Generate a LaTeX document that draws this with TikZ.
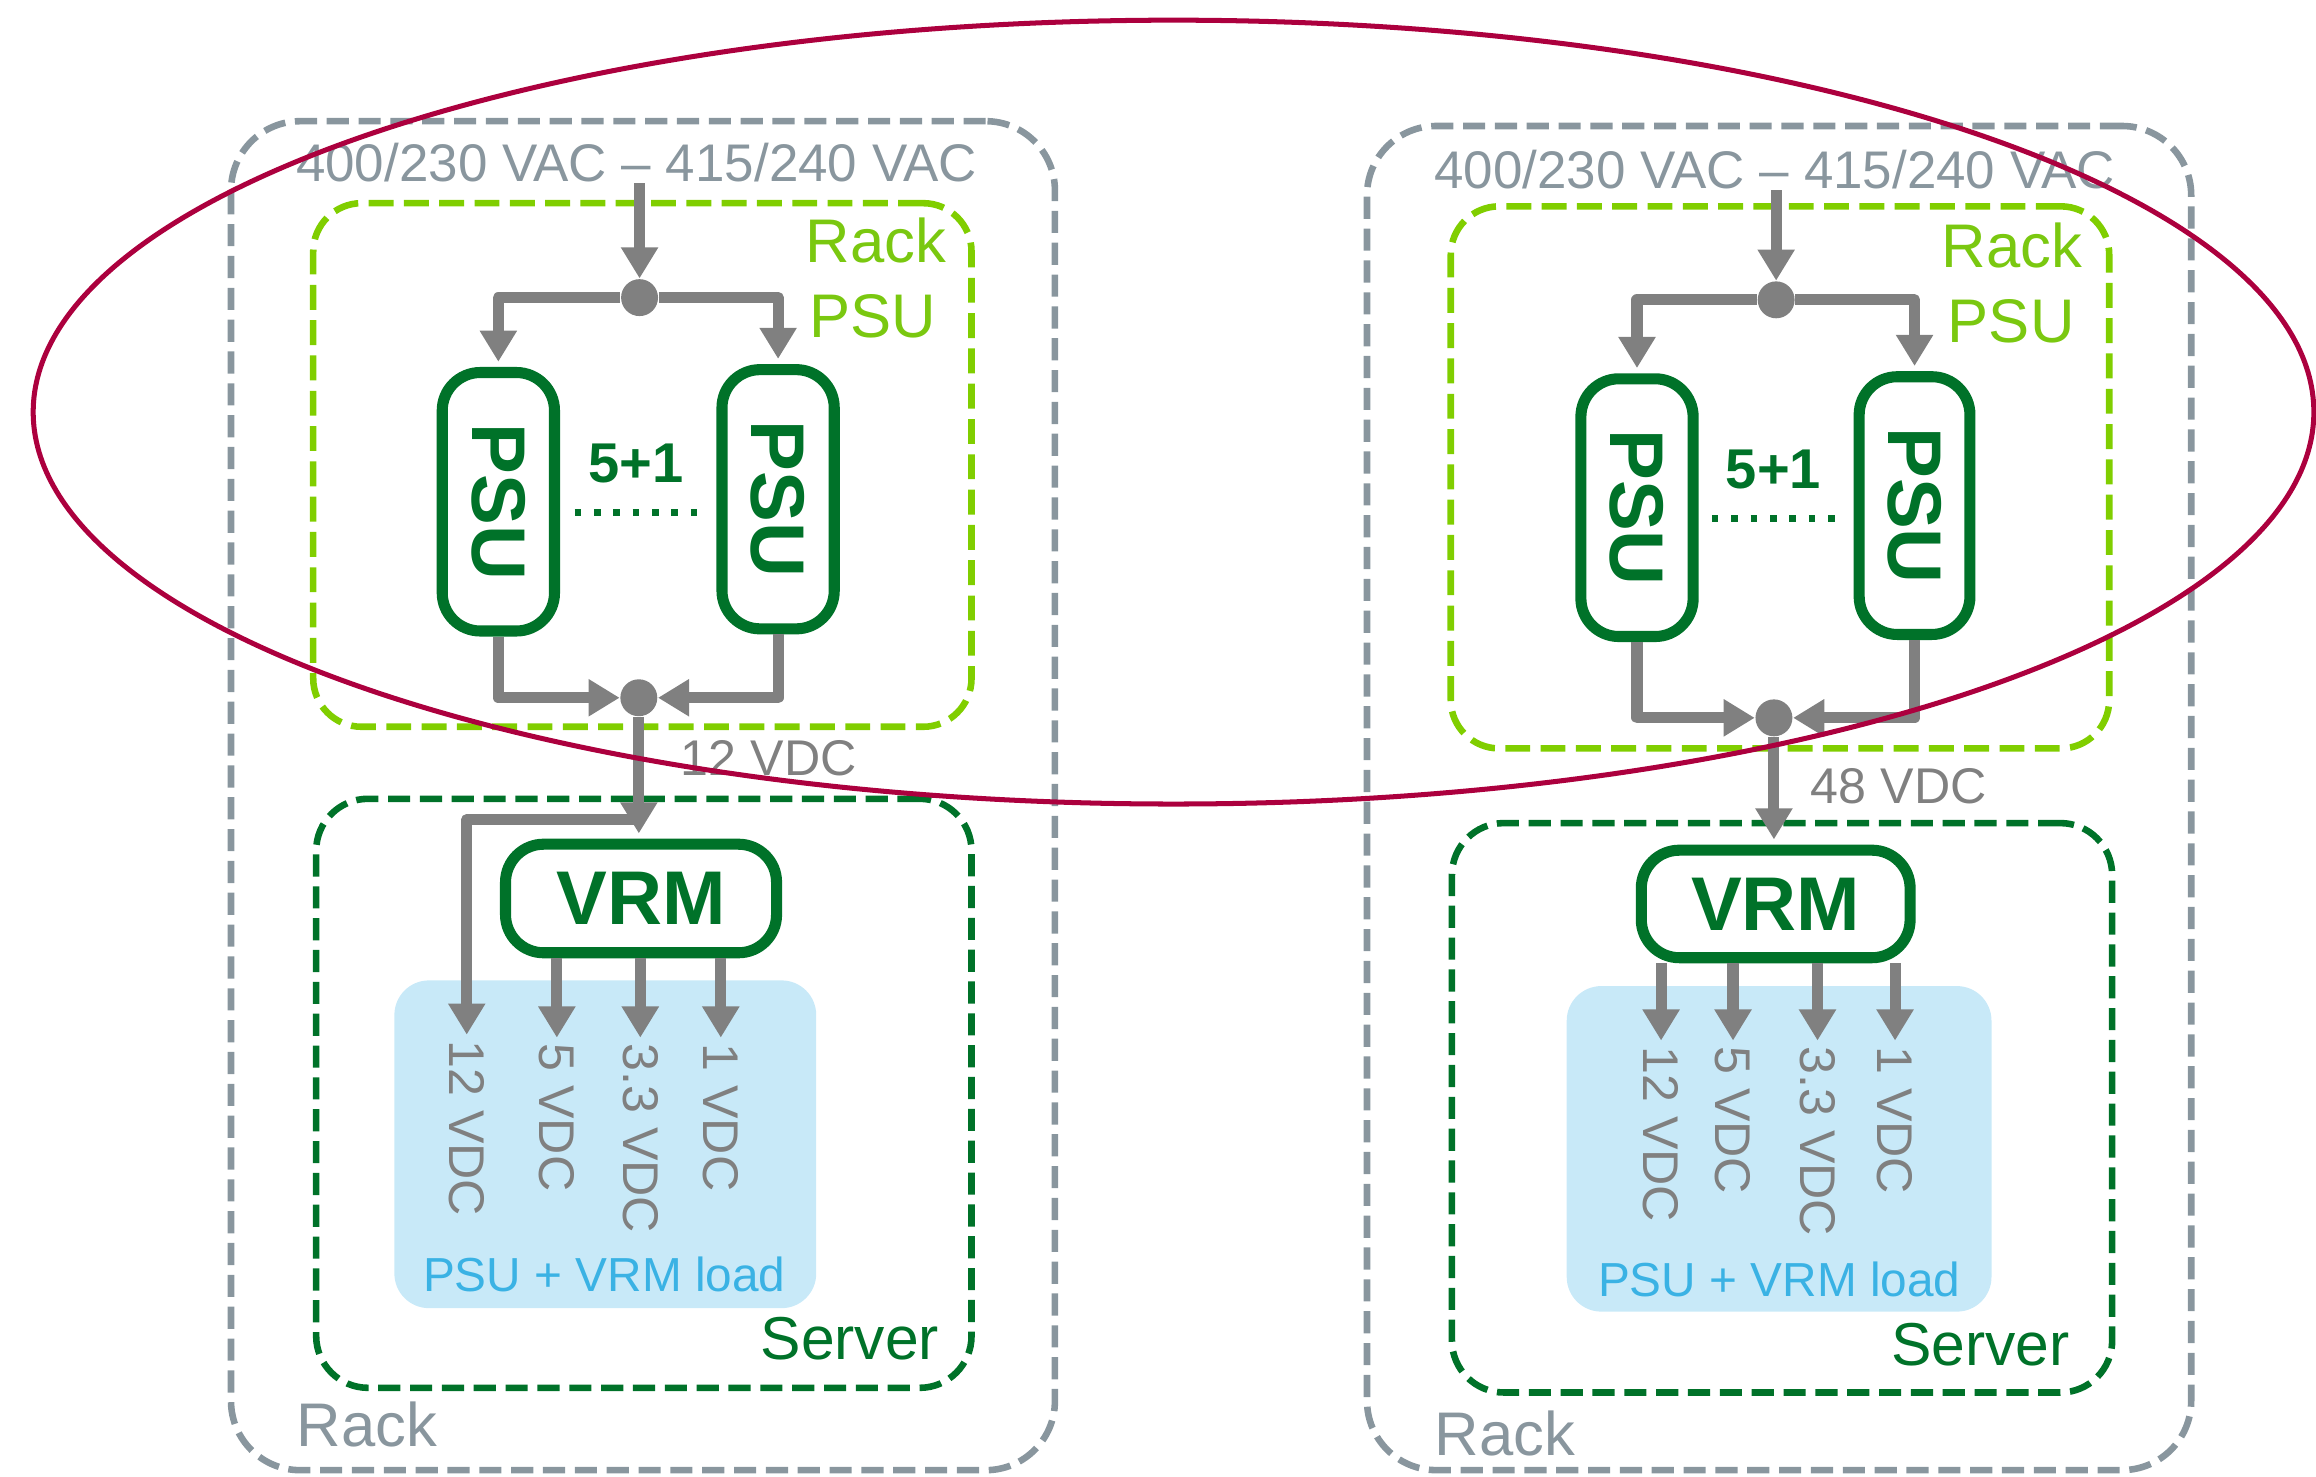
\documentclass[tikz,border=0pt]{standalone}
\usepackage{fontspec}
\setmainfont{Liberation Sans}
\usetikzlibrary{arrows.meta}

\definecolor{rackgray}{RGB}{137,150,158}
\definecolor{wiregray}{RGB}{128,128,128}
\definecolor{limegreen}{RGB}{128,206,0}
\definecolor{limetext}{RGB}{122,200,16}
\definecolor{srvgreen}{RGB}{0,114,41}
\definecolor{loadfill}{RGB}{200,233,248}
\definecolor{loadtext}{RGB}{58,178,228}
\definecolor{ringred}{RGB}{172,0,62}

\newcommand\fsz[1]{\fontsize{#1}{#1}\selectfont}

\tikzset{
  wh/.style 2 args={minimum width=#1*0.15mm, minimum height=#2*0.15mm},
  rackbox/.style={draw=rackgray, line width=1.9pt, dash pattern=on 6.4pt off 2.8pt,
    rounded corners=20pt, inner sep=0pt},
  psuarea/.style={draw=limegreen, line width=1.9pt, dash pattern=on 7.2pt off 3pt,
    rounded corners=14pt, inner sep=0pt},
  serverbox/.style={draw=srvgreen, line width=1.9pt, dash pattern=on 6.4pt off 2.8pt,
    rounded corners=15pt, inner sep=0pt},
  loadarea/.style={fill=loadfill, rounded corners=10pt, inner sep=0pt},
  unitbox/.style={draw=srvgreen, fill=white, line width=3.2pt, rounded corners=11pt,
    inner sep=0pt, text=srvgreen, font=\bfseries\fsz{22}},
  junction/.style={circle, fill=wiregray, minimum size=3.75mm, inner sep=0pt},
  wire/.style={draw=wiregray, line width=3.2pt, line join=round},
  feed/.style={wire, -{Triangle[length=9pt,width=10.2pt]}},
  intobox/.style={feed, shorten >=1.5pt},
  vdc/.style={text=wiregray, font=\fsz{14.5}, inner sep=0pt},
  actext/.style={text=rackgray, font=\fsz{15.3}, inner sep=0pt},
  limelabel/.style={text=limetext, font=\fsz{17.8}, inner sep=0pt},
  ratiolabel/.style={text=srvgreen, font=\bfseries\fsz{16.2}, inner sep=0pt},
  loadlabel/.style={text=loadtext, font=\fsz{13.8}, inner sep=0pt},
  srvlabel/.style={text=srvgreen, font=\fsz{17.5}, inner sep=0pt},
  racklabel/.style={text=rackgray, font=\fsz{17.8}, inner sep=0pt},
  spare/.style={draw=srvgreen, line width=2.2pt, dash pattern=on 1.9pt off 3.7pt},
}

\begin{document}
\begin{tikzpicture}[x=0.15mm, y=-0.15mm]
\useasboundingbox (0,0) rectangle (1568,999.3);

% ---------------- left rack: 12 VDC distribution ----------------
\node[rackbox, wh={557.8}{913.3}] (rackL) at (435.3,538.7) {};
\node[psuarea, wh={445.7}{354.5}] (areaL) at (434.9,314.8) {};
\node[serverbox, wh={443.7}{398.8}] (srvL) at (435.9,740.2) {};
\node[loadarea, wh={285.6}{221.9}] (loadL) at (409.8,774.7) {};

\node[actext, anchor=base west] (acL) at (200,123.2) {400/230 VAC – 415/240 VAC};
\node[limelabel, anchor=base east] (rkL) at (641,177.4) {Rack};
\node[limelabel, anchor=base east] (puL) at (634,228.7) {PSU};

\node[unitbox, wh={76}{175}] (psu1L) at (337.4,339.7) {\rotatebox{-90}{PSU}};
\node[unitbox, wh={76}{175.5}] (psu2L) at (526.8,338) {\rotatebox{-90}{PSU}};
\node[ratiolabel, anchor=base west] (nL) at (398,327) {5+1};
\coordinate (dL1) at (389,347);
\coordinate (dL2) at (472.5,347);
\draw[spare] (dL1) -- (dL2);

\node[junction] (jinL) at (433,201.5) {};
\node[junction] (joutL) at (432.5,472.4) {};
\node[vdc, anchor=base west] (busL) at (460.5,524.8) {12 VDC};
\node[unitbox, wh={183.5}{73.5}] (vrmL) at (434,608.3) {VRM};
\coordinate (brL) at (432.5,555);

\node[vdc, rotate=-90, anchor=west] (v12L) at (316,704) {12 VDC};
\node[vdc, rotate=-90, anchor=west] (v5L) at (377,706) {5 VDC};
\node[vdc, rotate=-90, anchor=west] (v33L) at (433.5,706) {3.3 VDC};
\node[vdc, rotate=-90, anchor=west] (v1L) at (488,706) {1 VDC};

\node[loadlabel, anchor=base west] (llL) at (286,874.4) {PSU + VRM load};
\node[srvlabel, anchor=base west] (slL) at (514.5,920.5) {Server};
\node[racklabel, anchor=base west] (rlL) at (200.5,979.4) {Rack};

\draw[feed] (acL.south -| jinL) -- (jinL);
\draw[intobox] (jinL) -| (psu1L);
\draw[intobox] (jinL) -| (psu2L);
\draw[feed] (psu1L) |- (joutL);
\draw[feed] (psu2L) |- (joutL);
\draw[intobox] (joutL) -- (joutL |- vrmL.north);
\draw[feed, shorten >=1.5pt] (brL) -| (v12L.west);
\draw[feed, shorten >=1.5pt] (vrmL.south -| v5L.west) -- (v5L.west);
\draw[feed, shorten >=1.5pt] (vrmL.south -| v33L.west) -- (v33L.west);
\draw[feed, shorten >=1.5pt] (vrmL.south -| v1L.west) -- (v1L.west);

% ---------------- right rack: 48 VDC distribution ----------------
\node[rackbox, wh={558}{910}] (rackR) at (1204.5,540.3) {};
\node[psuarea, wh={445.8}{367}] (areaR) at (1205.1,323.2) {};
\node[serverbox, wh={447}{385.5}] (srvR) at (1206.5,750) {};
\node[loadarea, wh={287.6}{220.4}] (loadR) at (1204.5,777.8) {};

\node[actext, anchor=base west] (acR) at (970.5,127.9) {400/230 VAC – 415/240 VAC};
\node[limelabel, anchor=base east] (rkR) at (1410,180.8) {Rack};
\node[limelabel, anchor=base east] (puR) at (1405,232.2) {PSU};

\node[unitbox, wh={76}{174.5}] (psu1R) at (1108.3,343.7) {\rotatebox{-90}{PSU}};
\node[unitbox, wh={75}{174.5}] (psu2R) at (1296.2,342.3) {\rotatebox{-90}{PSU}};
\node[ratiolabel, anchor=base west] (nR) at (1168,330.5) {5+1};
\coordinate (dR1) at (1159,351);
\coordinate (dR2) at (1243,351);
\draw[spare] (dR1) -- (dR2);

\node[junction] (jinR) at (1202.5,203) {};
\node[junction] (joutR) at (1201,486) {};
\node[vdc, anchor=base west] (busR) at (1225.5,543.9) {48 VDC};
\node[unitbox, wh={182}{72.8}] (vrmR) at (1202.2,612) {VRM};

\node[vdc, rotate=-90, anchor=west] (v12R) at (1124.6,708) {12 VDC};
\node[vdc, rotate=-90, anchor=west] (v5R) at (1173.3,708) {5 VDC};
\node[vdc, rotate=-90, anchor=west] (v33R) at (1230.5,708) {3.3 VDC};
\node[vdc, rotate=-90, anchor=west] (v1R) at (1283,708) {1 VDC};

\node[loadlabel, anchor=base west] (llR) at (1081.5,877.8) {PSU + VRM load};
\node[srvlabel, anchor=base west] (slR) at (1280,924.2) {Server};
\node[racklabel, anchor=base west] (rlR) at (970.8,985.1) {Rack};

\draw[feed] (acR.south -| jinR) -- (jinR);
\draw[intobox] (jinR) -| (psu1R);
\draw[intobox] (jinR) -| (psu2R);
\draw[feed] (psu1R) |- (joutR);
\draw[feed] (psu2R) |- (joutR);
\draw[intobox] (joutR) -- (joutR |- vrmR.north);
\draw[feed, shorten >=1.5pt] (vrmR.south -| v12R.west) -- (v12R.west);
\draw[feed, shorten >=1.5pt] (vrmR.south -| v5R.west) -- (v5R.west);
\draw[feed, shorten >=1.5pt] (vrmR.south -| v33R.west) -- (v33R.west);
\draw[feed, shorten >=1.5pt] (vrmR.south -| v1R.west) -- (v1R.west);

% ---------------- highlight ring round the rack PSU stages ----------------
\draw[ringred, line width=1.45pt] (794.5,279) ellipse [x radius=115.8mm, y radius=39.8mm];
\end{tikzpicture}
\end{document}
